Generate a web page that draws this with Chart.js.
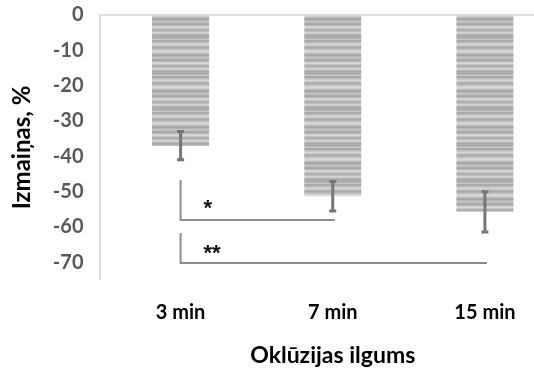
<!DOCTYPE html>
<html>
<head>
<meta charset="utf-8">
<script src="https://cdn.jsdelivr.net/npm/chart.js@4.4.1/dist/chart.umd.min.js"></script>
<style>
  html, body { margin: 0; padding: 0; background: #fff; overflow: hidden; }
  #wrap { position: relative; width: 566px; height: 371px; }
</style>
</head>
<body>
<div id="wrap"><canvas id="chart"></canvas></div>
<script>
// Occlusion duration groups and mean change (%) with error margins
const categories = ['3 min', '7 min', '15 min'];
const changes = [-37.0, -51.3, -55.7];
const errors = [4.0, 4.2, 5.7];
const yTickValues = [0, -10, -20, -30, -40, -50, -60, -70];

// Significance brackets between groups
const bracketFrom = [0, 0];
const bracketTo = [1, 2];
const bracketTop = [-46.7, -61.7];
const bracketBottom = [-58.0, -70.2];
const bracketMarks = ['*', '**'];
const bracketMarkLevel = [-52.9, -65.7];

const FONT = 'Lato, "Open Sans", sans-serif';

// fine horizontal grey hatching used as the bar fill
function stripePattern() {
  const shades = [176, 168, 184, 196, 172, 166, 188, 204, 214, 200, 178, 170, 182, 194, 210, 218, 206, 186, 174, 164, 180, 198, 190, 172,
                  168, 186, 208, 216, 196, 178, 170, 192, 212, 202, 184, 166];
  const c = document.createElement('canvas');
  c.width = 4; c.height = shades.length;
  const g = c.getContext('2d');
  shades.forEach((s, i) => {
    g.fillStyle = `rgb(${s},${s},${s})`;
    g.fillRect(0, i, 4, 1);
  });
  return g.createPattern(c, 'repeat');
}

const axesLines = {
  id: 'axesLines',
  beforeDatasetsDraw(chart) {
    const { ctx, chartArea, scales } = chart;
    const y0 = scales.y.getPixelForValue(0);
    const xLeft = chartArea.left - 4.5;
    ctx.save();
    ctx.strokeStyle = '#d4d4d4';
    ctx.lineWidth = 1.6;
    ctx.beginPath();
    ctx.moveTo(xLeft, y0);
    ctx.lineTo(chart.width, y0);
    ctx.moveTo(xLeft, y0);
    ctx.lineTo(xLeft, chartArea.bottom);
    ctx.stroke();
    ctx.restore();
  }
};

const errorBars = {
  id: 'errorBars',
  afterDatasetsDraw(chart) {
    const { ctx, scales } = chart;
    const meta = chart.getDatasetMeta(0);
    ctx.save();
    ctx.strokeStyle = '#767676';
    ctx.lineWidth = 3;
    meta.data.forEach((bar, i) => {
      const x = bar.x;
      const yA = scales.y.getPixelForValue(changes[i] + errors[i]);
      const yB = scales.y.getPixelForValue(changes[i] - errors[i]);
      ctx.beginPath();
      ctx.moveTo(x, yA); ctx.lineTo(x, yB);
      ctx.moveTo(x - 3.5, yA); ctx.lineTo(x + 3.5, yA);
      ctx.moveTo(x - 3.5, yB); ctx.lineTo(x + 3.5, yB);
      ctx.stroke();
    });
    ctx.restore();
  }
};

const brackets = {
  id: 'brackets',
  afterDatasetsDraw(chart) {
    const { ctx, scales } = chart;
    const sx = scales.x, sy = scales.y;
    const step = sx.getPixelForValue(1) - sx.getPixelForValue(0);
    ctx.save();
    bracketFrom.forEach((f, i) => {
      const x1 = sx.getPixelForValue(f);
      const x2 = sx.getPixelForValue(bracketTo[i]) + 2;
      const yT = sy.getPixelForValue(bracketTop[i]);
      const yB = sy.getPixelForValue(bracketBottom[i]);
      ctx.strokeStyle = '#8c8c8c';
      ctx.lineWidth = 2;
      ctx.beginPath();
      ctx.moveTo(x1, yT); ctx.lineTo(x1, yB); ctx.lineTo(x2, yB);
      ctx.stroke();
      ctx.fillStyle = '#111';
      ctx.font = 'bold 22px "Liberation Sans", sans-serif';
      ctx.textAlign = 'left';
      ctx.textBaseline = 'alphabetic';
      ctx.fillText(bracketMarks[i], x1 + 0.15 * step, sy.getPixelForValue(bracketMarkLevel[i]) + 13);
    });
    ctx.restore();
  }
};

new Chart(document.getElementById('chart'), {
  type: 'bar',
  data: {
    labels: categories,
    datasets: [{
      data: changes,
      backgroundColor: stripePattern(),
      borderWidth: 0,
      barPercentage: 0.75,
      categoryPercentage: 0.5
    }]
  },
  options: {
    responsive: true,
    maintainAspectRatio: false,
    animation: false,
    devicePixelRatio: 1,
    layout: { padding: { top: 15, right: 5, left: 0, bottom: 0 } },
    plugins: { legend: { display: false }, tooltip: { enabled: false } },
    scales: {
      x: {
        position: 'bottom',
        grid: { display: false, drawTicks: false },
        border: { display: false },
        ticks: { color: '#000', font: { family: FONT, size: 20, weight: 'bold' }, padding: 21, maxRotation: 0 },
        title: { display: true, text: 'Oklūzijas ilgums', color: '#000', font: { family: FONT, size: 23, weight: 'bold' }, padding: { top: 0, bottom: 2 } },
        afterFit(scale) { scale.height = 91; scale.paddingLeft = 0; scale.paddingRight = 0; }
      },
      y: {
        min: -75,
        max: 0,
        grid: { display: false, drawTicks: false },
        border: { display: false },
        afterBuildTicks(scale) { scale.ticks = yTickValues.map(v => ({ value: v })); },
        ticks: { color: '#595959', font: { family: FONT, size: 20, weight: 'bold' }, padding: 21 },
        title: { display: true, text: 'Izmaiņas, %', color: '#000', font: { family: FONT, size: 24, weight: 'bold' }, padding: { top: 8, bottom: 0 } },
        afterFit(scale) { scale.width = 104.5; scale.paddingTop = 0; scale.paddingBottom = 0; }
      }
    }
  },
  plugins: [axesLines, errorBars, brackets]
});
</script>
</body>
</html>
